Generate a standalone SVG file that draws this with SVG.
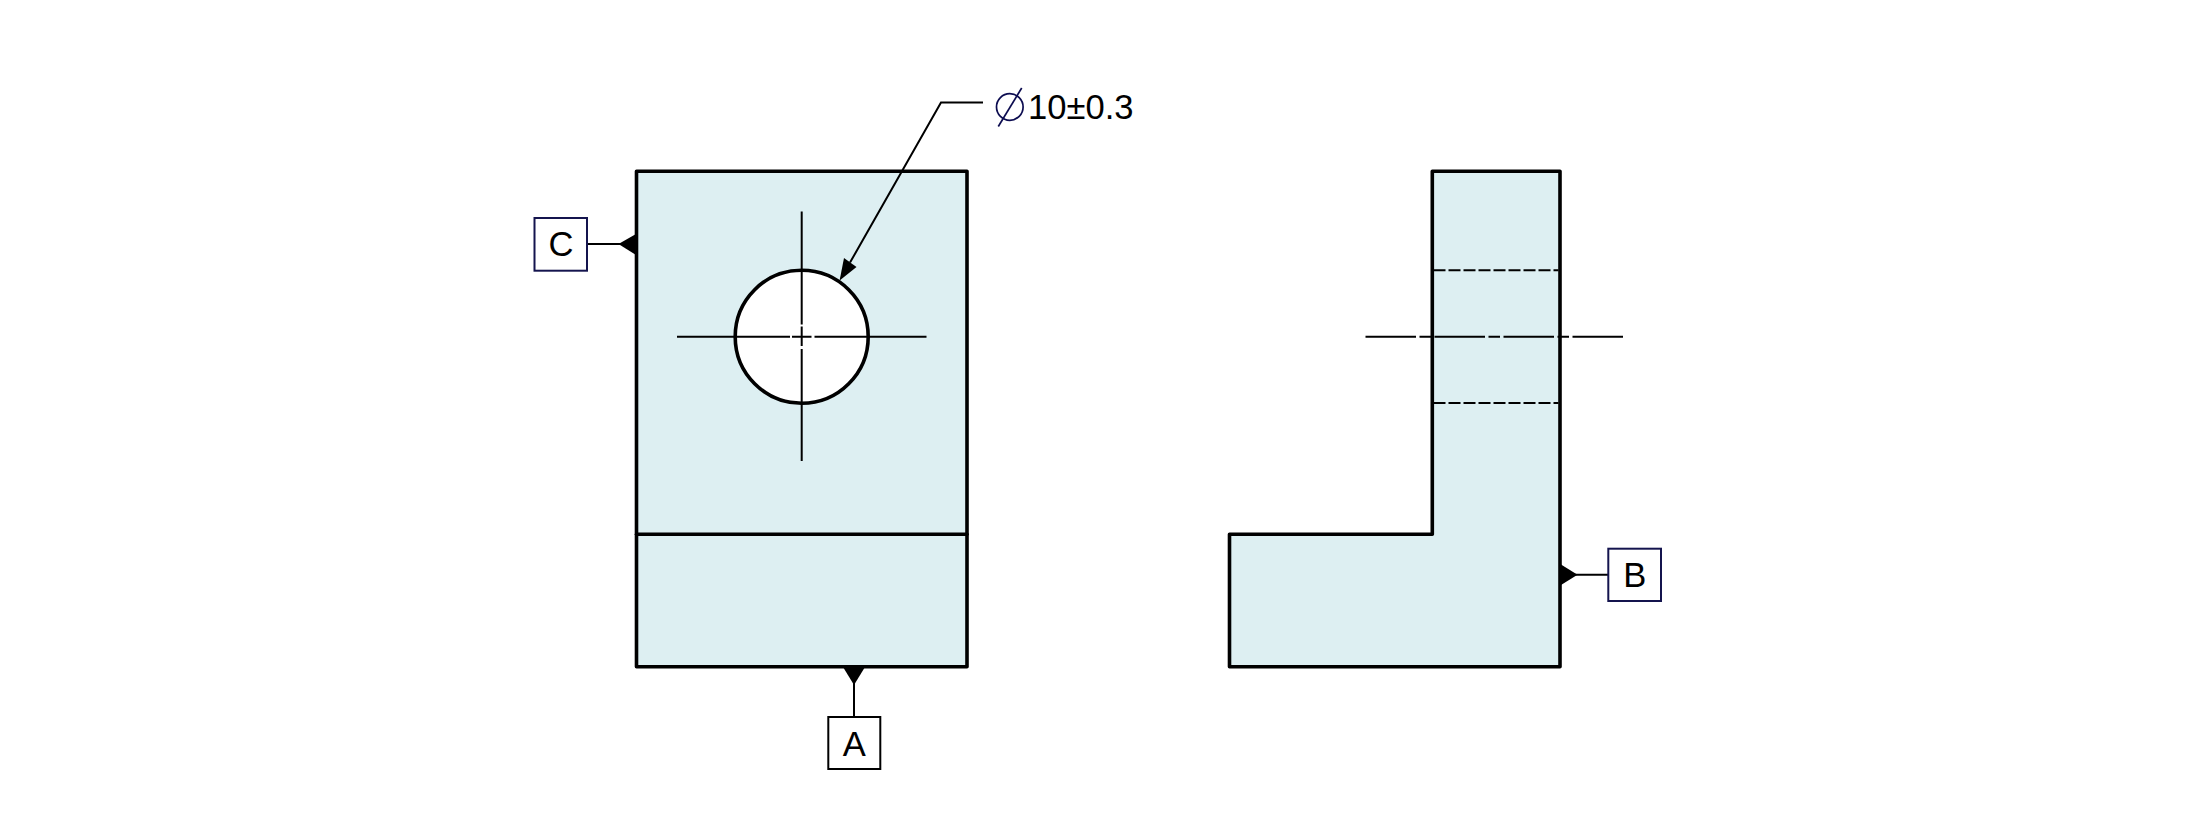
<svg xmlns="http://www.w3.org/2000/svg" width="2196" height="818" viewBox="0 0 2196 818">
<style>
.part{fill:#ddeff2;stroke:#000;stroke-width:3.6;stroke-linejoin:round}
.thick{fill:none;stroke:#000;stroke-width:3.6;stroke-linecap:round}
.thin{fill:none;stroke:#000;stroke-width:2}
.ctr{fill:none;stroke:#000;stroke-width:2;stroke-dasharray:50.5 3.5 11.5 3.5}
.dash{fill:none;stroke:#000;stroke-width:2;stroke-dasharray:12 3}
.head{fill:#000;stroke:none}
.box{fill:#fff;stroke:#14144e;stroke-width:2}
.boxk{fill:#fff;stroke:#000;stroke-width:2}
.lbl{font-family:"Liberation Sans",Arial,sans-serif;font-size:34.6px;fill:#000}
.sym{fill:none;stroke:#0c0c50;stroke-width:1.7}
</style>
<g id="front-view">
<rect class="part" x="636.5" y="171.3" width="330.5" height="495.5"/>
<line class="thick" x1="636.5" y1="534.3" x2="967" y2="534.3"/>
<circle cx="801.7" cy="336.7" r="66.5" fill="#fff" stroke="#000" stroke-width="3.6"/>
<path class="thin" d="M677 336.7H790M792 336.7H811.5M814.5 336.7H926.5M801.7 211.5V324.5M801.7 326.5V346M801.7 349V461"/>
</g>
<g id="side-view">
<path class="part" d="M1432.3 171.3H1560V666.8H1229.5V534.3H1432.3Z"/>
<line class="dash" x1="1433.5" y1="270.3" x2="1558.5" y2="270.3"/>
<line class="dash" x1="1433.5" y1="403" x2="1558.5" y2="403"/>
<line class="ctr" x1="1365.5" y1="336.7" x2="1625.5" y2="336.7"/>
</g>
<g id="connectors">
<path class="thin" d="M983 102.5H941L850 262.6"/>
<polygon class="head" points="839.6,280.5 844,258 856.5,267"/>
<line class="thin" x1="587" y1="244" x2="625" y2="244"/>
<polygon class="head" points="618.5,244 636,234 636,255"/>
<line class="thin" x1="854" y1="678" x2="854" y2="717"/>
<polygon class="head" points="843,667 865,667 854,685"/>
<line class="thin" x1="1570" y1="574.7" x2="1608.3" y2="574.7"/>
<polygon class="head" points="1561,564.5 1561,585 1577.5,574.7"/>
</g>
<g id="datum-C">
<rect class="box" x="534.5" y="218" width="52.5" height="52.7"/>
<text class="lbl" x="561" y="255.8" text-anchor="middle">C</text>
</g>
<g id="datum-A">
<rect class="boxk" x="828.3" y="717" width="52" height="52"/>
<text class="lbl" x="854.3" y="755.6" text-anchor="middle">A</text>
</g>
<g id="datum-B">
<rect class="box" x="1608.3" y="548.7" width="52.7" height="52.3"/>
<text class="lbl" x="1634.7" y="587.3" text-anchor="middle">B</text>
</g>
<g id="dimension">
<circle class="sym" cx="1009.8" cy="107" r="13.3"/>
<line class="sym" x1="998.3" y1="126.5" x2="1021.7" y2="88"/>
<text class="lbl" x="1028" y="119.3">10±0.3</text>
</g>
</svg>
